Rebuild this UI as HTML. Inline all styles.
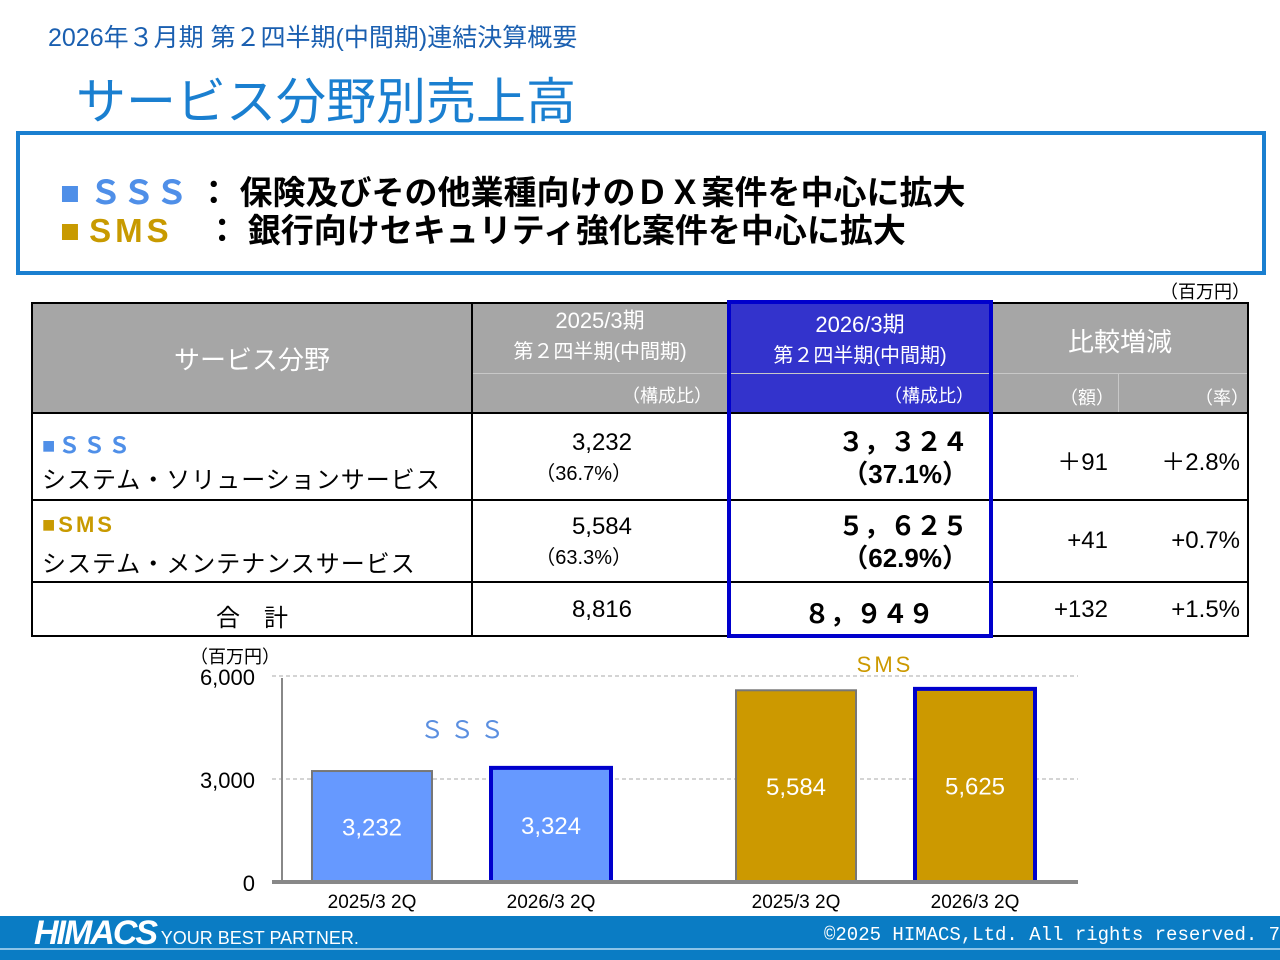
<!DOCTYPE html>
<html><head><meta charset="utf-8">
<style>
body{margin:0;width:1280px;height:960px;background:#fff;position:relative;overflow:hidden;font-family:"Liberation Sans","Noto Sans CJK JP",sans-serif;}
.a{position:absolute;}
</style></head><body>
<div class="a" style="left:48px;top:18px;font-size:25px;color:#1a5fb0;">2026年３月期 第２四半期(中間期)連結決算概要</div>
<div class="a" style="left:76px;top:62px;font-size:50px;color:#1a7fd0;">サービス分野別売上高</div>
<div class="a" style="left:16px;top:131px;width:1242px;height:136px;border:4px solid #1a7fd0;"></div>
<div class="a" style="left:60px;top:166px;font-size:33px;font-weight:bold;color:#000;white-space:nowrap"><span style="color:#4f8fe8">■ ＳＳＳ</span> ： 保険及びその他業種向けのＤＸ案件を中心に拡大</div>
<div class="a" style="left:60px;top:204px;font-size:33px;font-weight:bold;color:#000;white-space:nowrap"><span style="color:#c89a00">■ <span style="letter-spacing:4px">SMS</span></span>　： 銀行向けセキュリティ強化案件を中心に拡大</div>
<div class="a" style="left:1160px;top:278px;font-size:18px;">（百万円）</div>

<div class="a" style="left:32px;top:303px;width:1216px;height:110px;background:#a6a6a6;"></div>
<div class="a" style="left:728px;top:303px;width:264px;height:110px;background:#3333cc;"></div>
<div class="a" style="left:32px;top:340px;width:440px;text-align:center;font-size:26px;color:#fff;">サービス分野</div>
<div class="a" style="left:472px;top:306px;width:256px;text-align:center;font-size:22px;color:#fff;line-height:30px">2025/3期<br><span style="font-size:20px">第２四半期(中間期)</span></div>
<div class="a" style="left:728px;top:310px;width:264px;text-align:center;font-size:22px;color:#fff;line-height:30px">2026/3期<br><span style="font-size:20px">第２四半期(中間期)</span></div>
<div class="a" style="left:472px;top:382px;width:240px;text-align:right;font-size:18px;color:#fff">（構成比）</div>
<div class="a" style="left:728px;top:382px;width:246px;text-align:right;font-size:18px;color:#fff">（構成比）</div>
<div class="a" style="left:992px;top:322px;width:256px;text-align:center;font-size:26px;color:#fff">比較増減</div>
<div class="a" style="left:1060px;top:384px;font-size:18px;color:#fff">（額）</div>
<div class="a" style="left:1195px;top:384px;font-size:18px;color:#fff">（率）</div>
<div class="a" style="left:472px;top:373px;width:520px;border-top:1px solid #c8c8c8"></div>
<div class="a" style="left:992px;top:373px;width:256px;border-top:1px solid #c8c8c8"></div>
<div class="a" style="left:1118px;top:373px;height:40px;border-left:1px solid #c8c8c8"></div>

<svg class="a" style="left:0;top:0" width="1280" height="960">
<g stroke="#000" stroke-width="2" fill="none">
<rect x="32" y="303" width="1216" height="333"/>
<line x1="32" y1="413" x2="1248" y2="413"/><line x1="32" y1="500" x2="1248" y2="500"/><line x1="32" y1="582" x2="1248" y2="582"/>
<line x1="472" y1="303" x2="472" y2="636"/><line x1="992" y1="413" x2="992" y2="636"/>
</g>
<rect x="729" y="302" width="262" height="334" fill="none" stroke="#0000cc" stroke-width="4"/>
</svg>
<div class="a" style="left:42px;top:428px;font-size:22px;color:#4f8fe8;font-weight:bold;letter-spacing:3px">■ＳＳＳ</div>
<div class="a" style="left:42px;top:460px;font-size:24px;letter-spacing:1px">システム・ソリューションサービス</div>
<div class="a" style="left:42px;top:512px;font-size:22px;color:#c89a00;font-weight:bold;letter-spacing:3px">■SMS</div>
<div class="a" style="left:42px;top:544px;font-size:24px;letter-spacing:1px">システム・メンテナンスサービス</div>
<div class="a" style="left:32px;top:598px;width:440px;text-align:center;font-size:24px">合　計</div>
<div class="a" style="left:472px;top:428px;width:160px;text-align:right;font-size:24px;line-height:30px">3,232<br><span style="font-size:20px">（36.7%）</span></div>
<div class="a" style="left:472px;top:512px;width:160px;text-align:right;font-size:24px;line-height:30px">5,584<br><span style="font-size:20px">（63.3%）</span></div>
<div class="a" style="left:472px;top:596px;width:160px;text-align:right;font-size:24px">8,816</div>
<div class="a" style="left:728px;top:426px;width:240px;text-align:right;font-size:26px;line-height:32px;font-weight:bold">３，３２４<br>（37.1%）</div>
<div class="a" style="left:728px;top:510px;width:240px;text-align:right;font-size:26px;line-height:32px;font-weight:bold">５，６２５<br>（62.9%）</div>
<div class="a" style="left:728px;top:594px;width:206px;text-align:right;font-size:26px;font-weight:bold">８，９４９</div>
<div class="a" style="left:992px;top:442px;width:116px;text-align:right;font-size:24px">＋91</div>
<div class="a" style="left:1118px;top:442px;width:122px;text-align:right;font-size:24px">＋2.8%</div>
<div class="a" style="left:992px;top:527px;width:116px;text-align:right;font-size:24px">+41</div>
<div class="a" style="left:1118px;top:527px;width:122px;text-align:right;font-size:24px">+0.7%</div>
<div class="a" style="left:992px;top:596px;width:116px;text-align:right;font-size:24px">+132</div>
<div class="a" style="left:1118px;top:596px;width:122px;text-align:right;font-size:24px">+1.5%</div>

<svg id="chart" class="a" style="left:0;top:0" width="1280" height="960"></svg>
<script>
const categories=["2025/3 2Q","2026/3 2Q","2025/3 2Q","2026/3 2Q"];
const values=[3232,3324,5584,5625];
const valueLabels=["3,232","3,324","5,584","5,625"];
const ticks=[0,3000,6000];
const tickLabels=["0","3,000","6,000"];
const colors=["#6699ff","#6699ff","#cc9900","#cc9900"];
const borders=["#777","#0000cc","#777","#0000cc"];
const NS="http://www.w3.org/2000/svg",svg=document.getElementById('chart');
const y=v=>882-v*(882-676)/6000;
const barX=[312,491,736,915];
function mk(t,a,txt){const e=document.createElementNS(NS,t);for(const k in a)e.setAttribute(k,a[k]);if(txt!==undefined)e.textContent=txt;svg.appendChild(e);return e;}
ticks.forEach((t,i)=>{
 if(t>0){const g=mk('line',{x1:272,x2:1078,y1:y(t),y2:y(t),stroke:'#aaa','stroke-dasharray':'4,3'});
 
 }
 const l=mk('text',{x:255,y:y(t)+9,'text-anchor':'end','font-size':22,'font-family':'Liberation Sans,sans-serif'},tickLabels[i]);
 
 
});
const ax=mk('line',{x1:282,x2:282,y1:678,y2:882,stroke:'#888','stroke-width':2});


values.forEach((v,i)=>{
 const hl=borders[i]=='#0000cc';
 const r=mk('rect',{x:barX[i],y:y(v),width:120,height:882-y(v),fill:colors[i],stroke:borders[i],'stroke-width':hl?4:2});
 
 
 const t=mk('text',{x:barX[i]+60,y:(y(v)+882)/2+9,'text-anchor':'middle','font-size':24,fill:'#fff'},valueLabels[i]);
 
 
 const c=mk('text',{x:barX[i]+60,y:908,'text-anchor':'middle','font-size':19},categories[i]);
 
 
});
const bx=mk('line',{x1:272,x2:1078,y1:882,y2:882,stroke:'#888','stroke-width':4});


const u=mk('text',{x:190,y:663,'font-size':18},'（百万円）');


const s1=mk('text',{x:465,y:738,'text-anchor':'middle','font-size':24,fill:'#5b8fe0','letter-spacing':'6'},'ＳＳＳ');


const s2=mk('text',{x:885,y:672,'text-anchor':'middle','font-size':22,fill:'#cc9900','letter-spacing':'3'},'SMS');


</script>

<div class="a" style="left:0;top:916px;width:1280px;height:44px;background:#0a7cc4;"></div>
<div class="a" style="left:0;top:948px;width:1280px;height:2px;background:#8cc4e8"></div>
<div class="a" style="left:34px;top:914px;font-size:34px;font-weight:bold;color:#fff;font-style:italic;letter-spacing:-2px;white-space:nowrap">HIMACS<span style="font-size:18px;font-style:normal;font-weight:normal;letter-spacing:0"> YOUR BEST PARTNER.</span></div>
<div class="a" style="left:824px;top:924px;font-size:19px;color:#fff;font-family:'Liberation Mono',monospace;white-space:nowrap">©2025 HIMACS,Ltd. All rights reserved.  7</div>
</body></html>
